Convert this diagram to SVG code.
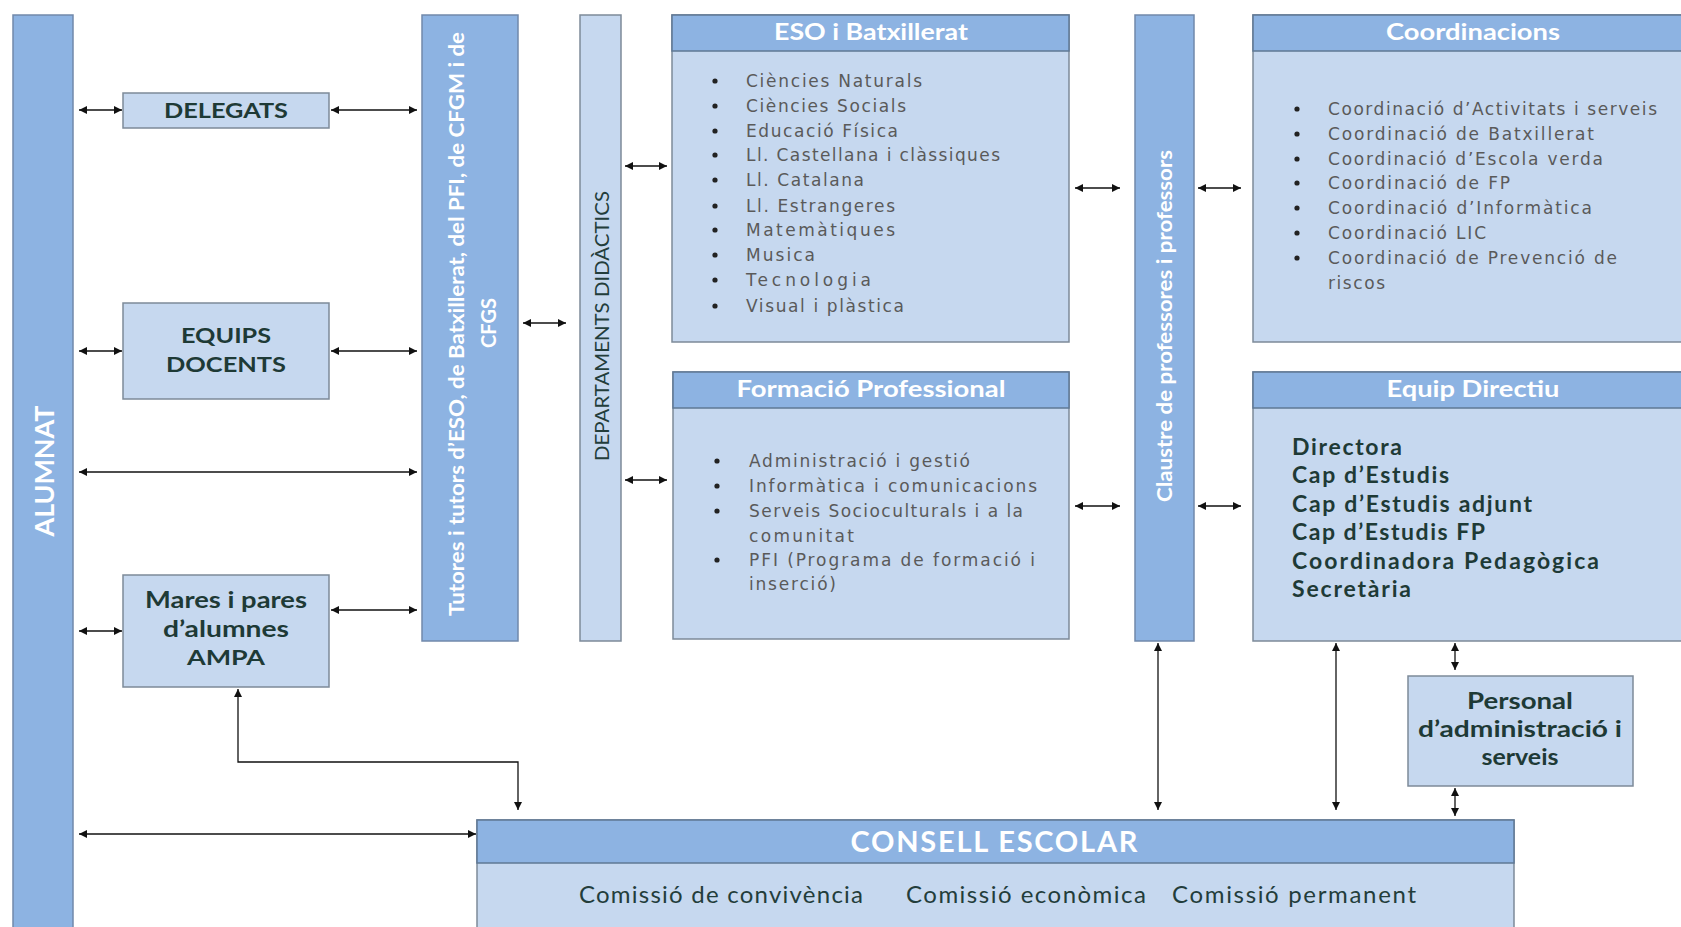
<svg xmlns="http://www.w3.org/2000/svg" width="1681" height="927" viewBox="0 0 1681 927">
<defs>
<style>
.bar{fill:#8db3e2;stroke:#7189ab;stroke-width:1.5}
.lt{fill:#c6d8ef;stroke:#7d8a99;stroke-width:1.5}
.hd{fill:#8db3e2;stroke:#5f7894;stroke-width:1.5}
.wt{fill:#ffffff;font-family:"Lato","Liberation Sans",sans-serif;font-weight:bold}
.dk{fill:#1e3a36;font-family:"Lato","Liberation Sans",sans-serif;font-weight:bold}
.dkr{fill:#233d3b;font-family:"Lato","Liberation Sans",sans-serif}
.li{fill:#5a5a5a;font-family:"DejaVu Sans","Liberation Sans",sans-serif;font-size:17px}
.bu{fill:#222}
.cn{fill:none;stroke:#111;stroke-width:1.3}
</style>
<marker id="ah" viewBox="0 0 10 10" refX="10" refY="5" markerWidth="11" markerHeight="8" orient="auto-start-reverse" markerUnits="userSpaceOnUse">
<path d="M0,0 L10,5 L0,10 z" fill="#111"/>
</marker>
</defs>
<rect width="1681" height="927" fill="#ffffff"/>

<g id="alumnat">
<rect class="bar" x="13" y="15" width="60" height="920"/>
<text class="wt" font-size="27" font-weight="normal" text-anchor="middle" dominant-baseline="central" transform="rotate(-90 43 471)" x="43" y="471" textLength="131">ALUMNAT</text>
</g>

<g id="delegats">
<rect class="lt" x="123" y="93" width="206" height="35"/>
<text class="dk" font-size="21" text-anchor="middle" x="226" y="118" textLength="124" lengthAdjust="spacingAndGlyphs">DELEGATS</text>
</g>

<g id="equips">
<rect class="lt" x="123" y="303" width="206" height="96"/>
<text class="dk" font-size="21" text-anchor="middle" x="226" y="343" textLength="90" lengthAdjust="spacingAndGlyphs">EQUIPS</text>
<text class="dk" font-size="21" text-anchor="middle" x="226" y="372" textLength="120" lengthAdjust="spacingAndGlyphs">DOCENTS</text>
</g>

<g id="ampa">
<rect class="lt" x="123" y="575" width="206" height="112"/>
<text class="dk" font-size="22" text-anchor="middle" x="226" y="608" textLength="162" lengthAdjust="spacingAndGlyphs">Mares i pares</text>
<text class="dk" font-size="22" text-anchor="middle" x="226" y="637" textLength="126" lengthAdjust="spacingAndGlyphs">d’alumnes</text>
<text class="dk" font-size="21" text-anchor="middle" x="226" y="665" textLength="78" lengthAdjust="spacingAndGlyphs">AMPA</text>
</g>

<g id="tutors">
<rect class="bar" x="422" y="15" width="96" height="626"/>
<text class="wt" font-size="20" font-weight="normal" text-anchor="middle" dominant-baseline="central" transform="rotate(-90 456 324)" x="456" y="324" textLength="584" lengthAdjust="spacingAndGlyphs">Tutores i tutors d’ESO, de Batxillerat, del PFI, de CFGM i de</text>
<text class="wt" font-size="20" font-weight="normal" text-anchor="middle" dominant-baseline="central" transform="rotate(-90 488 323)" x="488" y="323">CFGS</text>
</g>

<g id="departaments">
<rect class="lt" x="580" y="15" width="41" height="626"/>
<text class="dkr" font-size="20" text-anchor="middle" dominant-baseline="central" transform="rotate(-90 601 326)" x="601" y="326" textLength="270" lengthAdjust="spacingAndGlyphs">DEPARTAMENTS DIDÀCTICS</text>
</g>

<g id="eso">
<rect class="lt" x="672" y="15" width="397" height="327"/>
<rect class="hd" x="672" y="15" width="397" height="36"/>
<text class="wt" font-size="22" text-anchor="middle" x="871" y="40" textLength="194" lengthAdjust="spacingAndGlyphs">ESO i Batxillerat</text>
<g class="bu">
<circle cx="715" cy="81" r="2.6"/><circle cx="715" cy="106" r="2.6"/><circle cx="715" cy="131" r="2.6"/><circle cx="715" cy="155" r="2.6"/><circle cx="715" cy="180" r="2.6"/><circle cx="715" cy="206" r="2.6"/><circle cx="715" cy="230" r="2.6"/><circle cx="715" cy="255" r="2.6"/><circle cx="715" cy="280" r="2.6"/><circle cx="715" cy="306" r="2.6"/>
</g>
<text class="li" x="746" y="87" textLength="176">Ciències Naturals</text>
<text class="li" x="746" y="112" textLength="160">Ciències Socials</text>
<text class="li" x="746" y="137" textLength="152">Educació Física</text>
<text class="li" x="746" y="161" textLength="254">Ll. Castellana i clàssiques</text>
<text class="li" x="746" y="186" textLength="118">Ll. Catalana</text>
<text class="li" x="746" y="212" textLength="149">Ll. Estrangeres</text>
<text class="li" x="746" y="236" textLength="149">Matemàtiques</text>
<text class="li" x="746" y="261" textLength="69">Musica</text>
<text class="li" x="746" y="286" textLength="125">Tecnologia</text>
<text class="li" x="746" y="312" textLength="158">Visual i plàstica</text>
</g>

<g id="fp">
<rect class="lt" x="673" y="372" width="396" height="267"/>
<rect class="hd" x="673" y="372" width="396" height="36"/>
<text class="wt" font-size="22" text-anchor="middle" x="871" y="397" textLength="269" lengthAdjust="spacingAndGlyphs">Formació Professional</text>
<g class="bu">
<circle cx="717" cy="461" r="2.6"/><circle cx="717" cy="486" r="2.6"/><circle cx="717" cy="511" r="2.6"/><circle cx="717" cy="560" r="2.6"/>
</g>
<text class="li" x="749" y="467" textLength="221">Administració i gestió</text>
<text class="li" x="749" y="492" textLength="288">Informàtica i comunicacions</text>
<text class="li" x="749" y="517" textLength="274">Serveis Socioculturals i a la</text>
<text class="li" x="749" y="542" textLength="105">comunitat</text>
<text class="li" x="749" y="566" textLength="286">PFI (Programa de formació i</text>
<text class="li" x="749" y="590" textLength="87">inserció)</text>
</g>

<g id="claustre">
<rect class="bar" x="1135" y="15" width="59" height="626"/>
<text class="wt" font-size="20" font-weight="normal" text-anchor="middle" dominant-baseline="central" transform="rotate(-90 1164 326)" x="1164" y="326" textLength="352" lengthAdjust="spacingAndGlyphs">Claustre de professores i professors</text>
</g>

<g id="coordinacions">
<rect class="lt" x="1253" y="15" width="440" height="327"/>
<rect class="hd" x="1253" y="15" width="440" height="36"/>
<text class="wt" font-size="22" text-anchor="middle" x="1473" y="40" textLength="174" lengthAdjust="spacingAndGlyphs">Coordinacions</text>
<g class="bu">
<circle cx="1297" cy="109" r="2.6"/><circle cx="1297" cy="134" r="2.6"/><circle cx="1297" cy="159" r="2.6"/><circle cx="1297" cy="183" r="2.6"/><circle cx="1297" cy="208" r="2.6"/><circle cx="1297" cy="233" r="2.6"/><circle cx="1297" cy="258" r="2.6"/>
</g>
<text class="li" x="1328" y="115" textLength="329">Coordinació d’Activitats i serveis</text>
<text class="li" x="1328" y="140" textLength="266">Coordinació de Batxillerat</text>
<text class="li" x="1328" y="165" textLength="275">Coordinació d’Escola verda</text>
<text class="li" x="1328" y="189" textLength="182">Coordinació de FP</text>
<text class="li" x="1328" y="214" textLength="264">Coordinació d’Informàtica</text>
<text class="li" x="1328" y="239" textLength="158">Coordinació LIC</text>
<text class="li" x="1328" y="264" textLength="289">Coordinació de Prevenció de</text>
<text class="li" x="1328" y="289" textLength="57">riscos</text>
</g>

<g id="equip-directiu">
<rect class="lt" x="1253" y="372" width="440" height="269"/>
<rect class="hd" x="1253" y="372" width="440" height="36"/>
<text class="wt" font-size="22" text-anchor="middle" x="1473" y="397" textLength="173" lengthAdjust="spacingAndGlyphs">Equip Directiu</text>
<text class="dk" font-size="23" x="1292" y="455" textLength="110">Directora</text>
<text class="dk" font-size="23" x="1292" y="483" textLength="157">Cap d’Estudis</text>
<text class="dk" font-size="23" x="1292" y="512" textLength="240">Cap d’Estudis adjunt</text>
<text class="dk" font-size="23" x="1292" y="540" textLength="193">Cap d’Estudis FP</text>
<text class="dk" font-size="23" x="1292" y="569" textLength="307">Coordinadora Pedagògica</text>
<text class="dk" font-size="23" x="1292" y="597" textLength="119">Secretària</text>
</g>

<g id="personal">
<rect class="lt" x="1408" y="676" width="225" height="110"/>
<text class="dk" font-size="22" text-anchor="middle" x="1520" y="709" textLength="106" lengthAdjust="spacingAndGlyphs">Personal</text>
<text class="dk" font-size="22" text-anchor="middle" x="1520" y="737" textLength="204" lengthAdjust="spacingAndGlyphs">d’administració i</text>
<text class="dk" font-size="22" text-anchor="middle" x="1520" y="765" textLength="77" lengthAdjust="spacingAndGlyphs">serveis</text>
</g>

<g id="consell">
<rect class="lt" x="477" y="820" width="1037" height="120"/>
<rect class="hd" x="477" y="820" width="1037" height="43"/>
<text class="wt" font-size="29" font-weight="normal" text-anchor="middle" x="994" y="852" textLength="287">CONSELL ESCOLAR</text>
<text class="dkr" font-size="24" x="579" y="903" textLength="284">Comissió de convivència</text>
<text class="dkr" font-size="24" x="906" y="903" textLength="240">Comissió econòmica</text>
<text class="dkr" font-size="24" x="1172" y="903" textLength="244">Comissió permanent</text>
</g>

<g id="connectors">
<line class="cn" x1="79" y1="110" x2="122" y2="110" marker-start="url(#ah)" marker-end="url(#ah)"/>
<line class="cn" x1="331" y1="110" x2="417" y2="110" marker-start="url(#ah)" marker-end="url(#ah)"/>
<line class="cn" x1="79" y1="351" x2="122" y2="351" marker-start="url(#ah)" marker-end="url(#ah)"/>
<line class="cn" x1="331" y1="351" x2="417" y2="351" marker-start="url(#ah)" marker-end="url(#ah)"/>
<line class="cn" x1="79" y1="472" x2="417" y2="472" marker-start="url(#ah)" marker-end="url(#ah)"/>
<line class="cn" x1="79" y1="631" x2="122" y2="631" marker-start="url(#ah)" marker-end="url(#ah)"/>
<line class="cn" x1="331" y1="610" x2="417" y2="610" marker-start="url(#ah)" marker-end="url(#ah)"/>
<line class="cn" x1="523" y1="323" x2="566" y2="323" marker-start="url(#ah)" marker-end="url(#ah)"/>
<line class="cn" x1="625" y1="166" x2="667" y2="166" marker-start="url(#ah)" marker-end="url(#ah)"/>
<line class="cn" x1="625" y1="480" x2="667" y2="480" marker-start="url(#ah)" marker-end="url(#ah)"/>
<line class="cn" x1="1075" y1="188" x2="1120" y2="188" marker-start="url(#ah)" marker-end="url(#ah)"/>
<line class="cn" x1="1075" y1="506" x2="1120" y2="506" marker-start="url(#ah)" marker-end="url(#ah)"/>
<line class="cn" x1="1198" y1="188" x2="1241" y2="188" marker-start="url(#ah)" marker-end="url(#ah)"/>
<line class="cn" x1="1198" y1="506" x2="1241" y2="506" marker-start="url(#ah)" marker-end="url(#ah)"/>
<path class="cn" d="M238,689 V762 H518 V810" marker-start="url(#ah)" marker-end="url(#ah)"/>
<line class="cn" x1="79" y1="834" x2="476" y2="834" marker-start="url(#ah)" marker-end="url(#ah)"/>
<line class="cn" x1="1158" y1="643" x2="1158" y2="810" marker-start="url(#ah)" marker-end="url(#ah)"/>
<line class="cn" x1="1336" y1="643" x2="1336" y2="810" marker-start="url(#ah)" marker-end="url(#ah)"/>
<line class="cn" x1="1455" y1="643" x2="1455" y2="670" marker-start="url(#ah)" marker-end="url(#ah)"/>
<line class="cn" x1="1455" y1="788" x2="1455" y2="816" marker-start="url(#ah)" marker-end="url(#ah)"/>
</g>
</svg>
